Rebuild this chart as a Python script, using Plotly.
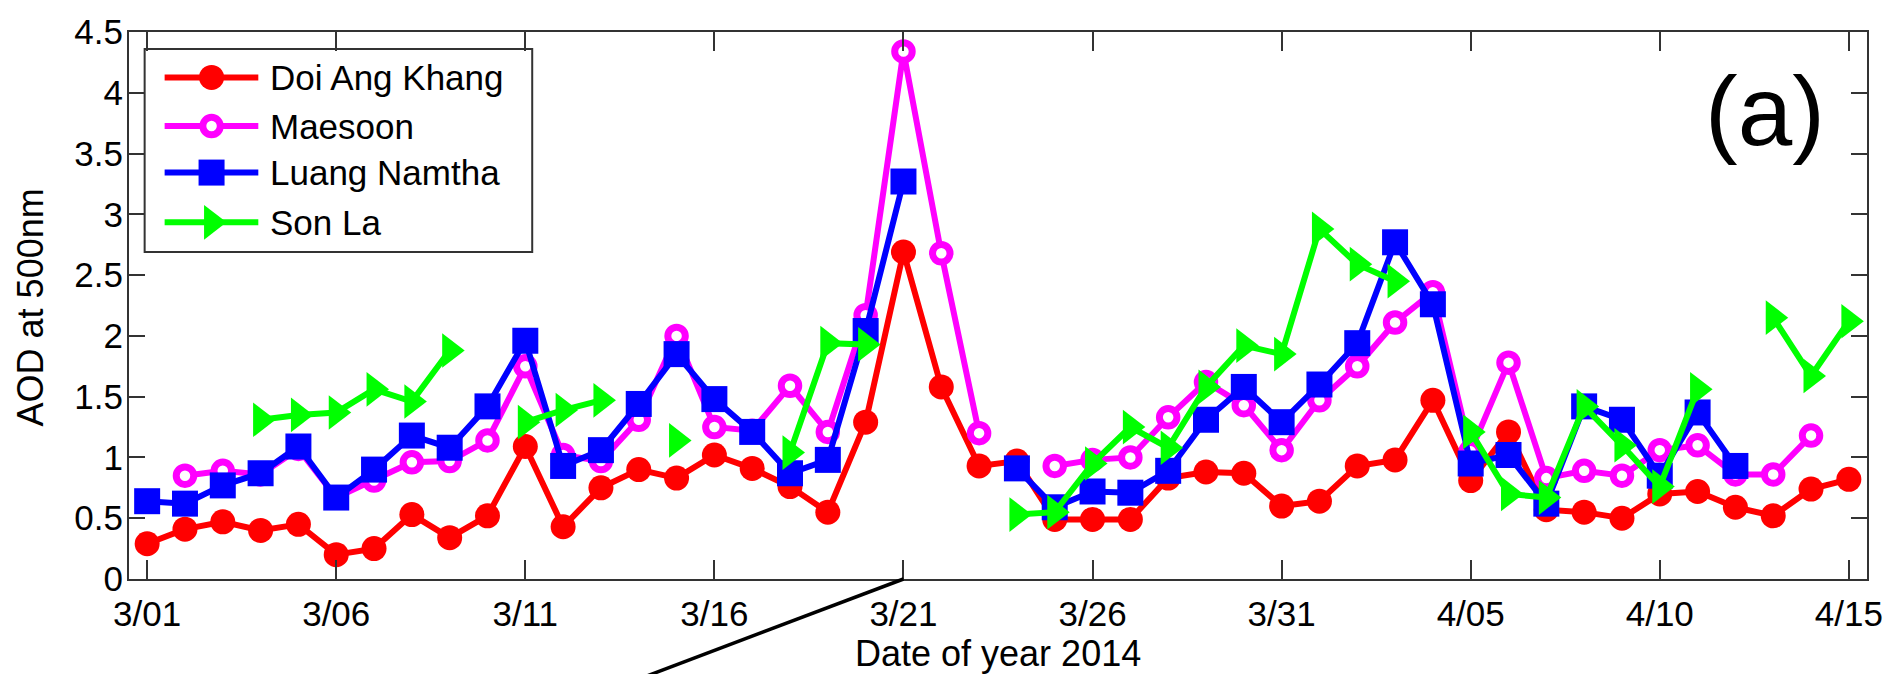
import plotly.graph_objects as go

# Day-of-month index: 1 = 1 March 2014 ... 46 = 15 April 2014
day = list(range(1, 47))
tick_days = [1, 6, 11, 16, 21, 26, 31, 36, 41, 46]
tick_labels = ["3/01", "3/06", "3/11", "3/16", "3/21", "3/26", "3/31", "4/05", "4/10", "4/15"]
aod_ticks = [0, 0.5, 1, 1.5, 2, 2.5, 3, 3.5, 4, 4.5]
aod_tick_labels = ["0", "0.5", "1", "1.5", "2", "2.5", "3", "3.5", "4", "4.5"]

# Daily AOD at 500 nm (None = no retrieval)
doi_ang_khang = [0.29, 0.41, 0.47, 0.40, 0.45, 0.20, 0.25, 0.53, 0.34, 0.52,
                 1.09, 0.43, 0.75, 0.90, 0.83, 1.02, 0.91, 0.76, 0.55, 1.29,
                 2.69, 1.58, 0.93, 0.97, 0.49, 0.49, 0.49, 0.83, 0.88, 0.87,
                 0.60, 0.64, 0.93, 0.98, 1.47, 0.81, 1.21, 0.57, 0.55, 0.50,
                 0.70, 0.72, 0.59, 0.52, 0.74, 0.82]
maesoon = [None, 0.85, 0.89, 0.86, 1.07, 0.67, 0.81, 0.96, 0.97, 1.14,
           1.75, 1.02, 0.97, 1.31, 2.00, 1.25, 1.22, 1.59, 1.21, 2.17,
           4.34, 2.68, 1.20, None, 0.93, 0.98, 1.00, 1.33, 1.62, 1.43,
           1.06, 1.47, 1.75, 2.11, 2.36, 1.05, 1.78, 0.83, 0.89, 0.85,
           1.06, 1.10, 0.86, 0.86, 1.18, None]
luang_namtha = [0.64, 0.62, 0.77, 0.87, 1.09, 0.67, 0.90, 1.18, 1.08, 1.42,
                1.96, 0.93, 1.06, 1.44, 1.85, 1.48, 1.21, 0.87, 0.98, 2.04,
                3.27, None, None, 0.91, 0.59, 0.72, 0.71, 0.89, 1.31, 1.58,
                1.29, 1.60, 1.94, 2.77, 2.26, 0.95, 1.02, 0.62, 1.42, 1.31,
                0.85, 1.37, 0.93, None, None, None]
son_la = [None, None, None, 1.31, 1.35, 1.37, 1.56, 1.46, 1.88, None,
          1.29, 1.39, 1.47, None, 1.14, None, None, 1.04, 1.94, 1.93,
          None, None, None, 0.53, 0.55, 0.95, 1.25, 1.08, 1.58, 1.92,
          1.85, 2.88, 2.59, 2.45, None, 1.21, 0.70, 0.67, 1.42, 1.10,
          0.76, 1.56, None, 2.15, 1.67, 2.12]

site_names = ["Doi Ang Khang", "Maesoon", "Luang Namtha", "Son La"]
site_values = [doi_ang_khang, maesoon, luang_namtha, son_la]

site_styles = [
    dict(color="#FF0000", marker=dict(symbol="circle", size=25, color="#FF0000")),
    dict(color="#FF00FF", marker=dict(symbol="circle", size=17.5, color="#FFFFFF",
                                      line=dict(color="#FF00FF", width=7))),
    dict(color="#0000FF", marker=dict(symbol="square", size=26, color="#0000FF")),
    dict(color="#00FF00", marker=dict(symbol="triangle-right", size=30, color="#00FF00")),
]
LINE_W = 6

X_RANGE = [0.52, 46.48]
Y_RANGE = [0, 4.5]
FONT = "Liberation Sans, Arial, sans-serif"
AXIS_COLOR = "#333333"

fig = go.Figure()

for name, values, style in zip(site_names, site_values, site_styles):
    fig.add_trace(go.Scatter(
        x=day, y=values, name=name, mode="lines+markers",
        line=dict(color=style["color"], width=LINE_W),
        marker=style["marker"],
        connectgaps=False, showlegend=False, cliponaxis=False,
    ))

# Legend drawn on an overlay axis that spans the plot area as [0, 1] x [0, 1]
leg_x0, leg_x1 = 0.009, 0.232
leg_y0, leg_y1 = 0.598, 0.969
leg_rows = [0.917, 0.828, 0.743, 0.652]
sample_x = [0.0205, 0.0744]
sample_mid = 0.0475
text_x = 0.080

fig.add_shape(type="rect", xref="paper", yref="paper",
              x0=leg_x0, x1=leg_x1, y0=leg_y0, y1=leg_y1,
              line=dict(color=AXIS_COLOR, width=2), fillcolor="white", layer="below")

for name, row, style in zip(site_names, leg_rows, site_styles):
    fig.add_trace(go.Scatter(
        x=sample_x, y=[row, row], mode="lines", xaxis="x2", yaxis="y2",
        line=dict(color=style["color"], width=LINE_W), showlegend=False, hoverinfo="skip",
    ))
    fig.add_trace(go.Scatter(
        x=[sample_mid], y=[row], mode="markers", xaxis="x2", yaxis="y2",
        marker=style["marker"], showlegend=False, hoverinfo="skip",
    ))
    fig.add_annotation(x=text_x, y=row, xref="paper", yref="paper", text=name,
                       showarrow=False, xanchor="left", yanchor="middle",
                       font=dict(family=FONT, size=35, color="black"))

# Panel tag
fig.add_annotation(x=0.9415, y=0.855, xref="paper", yref="paper", text="(a)",
                   showarrow=False, xanchor="center", yanchor="middle",
                   font=dict(family=FONT, size=98, color="black"))

# Axis titles
fig.add_annotation(x=0.5, y=-0.137, xref="paper", yref="paper", text="Date of year 2014",
                   showarrow=False, xanchor="center", yanchor="middle",
                   font=dict(family=FONT, size=36, color="black"))
fig.add_annotation(x=-0.0568, y=0.497, xref="paper", yref="paper", text="AOD at 500nm",
                   showarrow=False, xanchor="center", yanchor="middle", textangle=-90,
                   font=dict(family=FONT, size=36, color="black"))

# Pointer line leaving the 3/21 tick
x21 = (21 - X_RANGE[0]) / (X_RANGE[1] - X_RANGE[0])
fig.add_shape(type="line", xref="paper", yref="paper",
              x0=x21, y0=0, x1=x21 - 0.2 * 0.8326, y1=-0.2,
              line=dict(color="black", width=3.5))

fig.update_layout(
    width=1895, height=674,
    margin=dict(l=129, r=25, t=26, b=95),
    paper_bgcolor="white", plot_bgcolor="white",
    font=dict(family=FONT, size=35, color="black"),
    showlegend=False,
    xaxis=dict(
        range=X_RANGE, tickmode="array", tickvals=tick_days, ticktext=tick_labels,
        ticks="inside", ticklen=19, tickwidth=1.5, tickcolor=AXIS_COLOR,
        showline=True, linecolor=AXIS_COLOR, linewidth=2, mirror="ticks",
        showgrid=False, zeroline=False, ticklabelstandoff=3,
        tickfont=dict(family=FONT, size=35, color="black"),
    ),
    yaxis=dict(
        range=Y_RANGE, tickmode="array", tickvals=aod_ticks, ticktext=aod_tick_labels,
        ticks="inside", ticklen=16, tickwidth=1.5, tickcolor=AXIS_COLOR,
        showline=True, linecolor=AXIS_COLOR, linewidth=2, mirror="ticks",
        showgrid=False, zeroline=False, ticklabelstandoff=-3,
        tickfont=dict(family=FONT, size=35, color="black"),
    ),
    xaxis2=dict(overlaying="x", range=[0, 1], visible=False, anchor="y2"),
    yaxis2=dict(overlaying="y", range=[0, 1], visible=False, anchor="x2"),
)

fig.write_html("out.html")
